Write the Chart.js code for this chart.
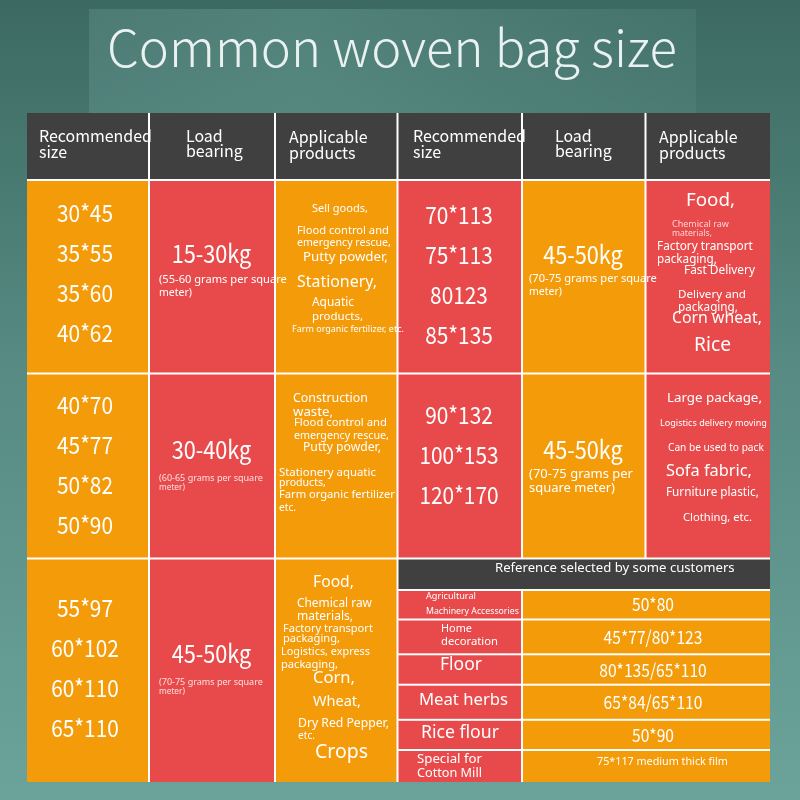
<!DOCTYPE html>
<html><head><meta charset="utf-8">
<style>html,body{margin:0;padding:0;background:#4f8079;}#wrap{width:800px;height:800px;position:relative}</style>
<script src="https://cdn.jsdelivr.net/npm/chart.js@4.4.1/dist/chart.umd.min.js"></script>
</head><body><div id="wrap"><canvas id="c"></canvas></div>
<script>
// ---------------- DATA ----------------
const TITLE = "Common woven bag size";
const HEADERS = [["Recommended","size"],["Load","bearing"],["Applicable","products"],
                 ["Recommended","size"],["Load","bearing"],["Applicable","products"]];
const SIZES_LEFT = [["30*45","35*55","35*60","40*62"],["40*70","45*77","50*82","50*90"],["55*97","60*102","60*110","65*110"]];
const SIZES_RIGHT = [["70*113","75*113","80123","85*135"],["90*132","100*153","120*170"]];
const LOAD_LEFT = ["15-30kg","30-40kg","45-50kg"];
const LOAD_RIGHT = ["45-50kg","45-50kg"];
const GRAMS_LEFT = [["(55-60 grams per square","meter)"],["(60-65 grams per square","meter)"],["(70-75 grams per square","meter)"]];
const GRAMS_RIGHT = [["(70-75 grams per square","meter)"],["(70-75 grams per","square meter)"]];
const PRODUCTS_LEFT = [
  ["Sell goods,","Flood control and","emergency rescue,","Putty powder,","Stationery,","Aquatic","products,","Farm organic fertilizer, etc."],
  ["Construction","waste,","Flood control and","emergency rescue,","Putty powder,","Stationery aquatic","products,","Farm organic fertilizer","etc."],
  ["Food,","Chemical raw","materials,","Factory transport","packaging,","Logistics, express","packaging,","Corn,","Wheat,","Dry Red Pepper,","etc.","Crops"]
];
const PRODUCTS_RIGHT = [
  ["Food,","Chemical raw","materials,","Factory transport","packaging,","Fast Delivery","Delivery and","packaging,","Corn wheat,","Rice"],
  ["Large package,","Logistics delivery moving","Can be used to pack","Sofa fabric,","Furniture plastic,","Clothing, etc."]
];
const REF_TITLE = "Reference selected by some customers";
const REF_USES = [["Agricultural","Machinery Accessories"],["Home","decoration"],["Floor"],["Meat herbs"],["Rice flour"],["Special for","Cotton Mill"]];
const REF_SIZES = ["50*80","45*77/80*123","80*135/65*110","65*84/65*110","50*90","75*117 medium thick film"];

// ---------------- LAYOUT / STYLE ----------------
const W_TABLE = 743, H_TABLE = 669;
const COL_EDGES = [0,122,248,370.5,495,618.5,743];
const ROW_EDGES = [0,67,260.5,445.5,669];
const SUB_EDGES = [445.5,477,506.5,541.3,571.7,606.8,637,669];
const ORANGE = '#F49B0A', RED = '#E84A4B', DARK = '#404040';
const F_CJK = '"Noto Sans CJK SC", "Noto Sans", sans-serif';
const F_TXT = '"Noto Sans", "Open Sans", sans-serif';
const HEADER_LAYOUT = [[12,23,39],[37,23,38],[14,24,40],[15.5,23,39],[33,23,38],[13.5,24,40]];
const HEADER_FIT = ["Recommended", 113];
const SIZE_LAYOUT_L = [[58,33],[58,31],[58,49.5]];
const SIZE_LAYOUT_R = [[61.5,35],[61.5,41.5]];
const LOAD_LAYOUT_L = [[62.5,73.5],[62.5,75.5],[62.5,94.5]];
const LOAD_LAYOUT_R = [[61,74],[61,75.5]];
const GRAMS_LAYOUT_L = [[10,100,113,128,33],[10,104.5,114.5,104,26],[10,123.5,133.5,104,26]];
const GRAMS_LAYOUT_R = [[7,99,112,128,33],[7,100.5,114.5,104,86]];
const PROD_LAYOUT_L = [
  [[37,29,56],[22,51,92],[22,63,94],[28,77,85],[22,102,80],[37,123,42],[37,137,51],[17,149,112]],
  [[18,24.5,75],[18,38.5,40],[19,49.5,93],[19,62.5,95],[28,74.5,78],[4,99.5,97],[4,109.5,47],[4,121.5,116],[4,134.5,17]],
  [[38,24.5,41],[22,45.5,75],[22,58.5,56],[8,70.5,90],[8,80.5,57],[6,93.5,89],[6,106.5,57],[38,119.5,42],[38,143.5,48],[23,165.5,91],[23,177.5,17],[40,193.5,53]]
];
const PROD_LAYOUT_R = [
  [[40.5,21,49],[26.5,44,57],[26.5,54,40],[11.5,67,96],[11.5,80,60],[38.5,91,71],[32.5,115,68],[32.5,128,60],[26.5,138,90],[48.5,166,37]],
  [[21.5,24.5,95],[14.5,49.5,107],[22.5,74.5,96],[20.5,97.5,86],[20.5,119.5,93],[37.5,144.5,69]]
];
const REF_TITLE_LAYOUT = [97.5,9.5,240];
const REF_USE_LAYOUT = [
  [[28.5,6,50],[28.5,22,93]],[[43.5,9.5,31],[43.5,22.5,57]],[[42.5,10.7,42]],
  [[21.5,15.3,89]],[[23.5,13.2,78]],[[19.5,9,65],[19.5,23,65]]
];
const REF_SIZE_LAYOUT = [[131,14],[131,17.5],[131,15.7],[131,17.3],[131,15.2],[75,12,131]];

// ---------------- BUILD ----------------
const cells = [];
const texts = [];
const colColor = c => (c % 2 === 0 ? ORANGE : RED);
for (let c = 0; c < 6; c++) cells.push({x0:COL_EDGES[c],x1:COL_EDGES[c+1],y0:ROW_EDGES[0],y1:ROW_EDGES[1],color:DARK});
for (let r = 1; r <= 3; r++) {
  const last = r === 3 ? 3 : 6;
  for (let c = 0; c < last; c++) cells.push({x0:COL_EDGES[c],x1:COL_EDGES[c+1],y0:ROW_EDGES[r],y1:ROW_EDGES[r+1],color:colColor(c)});
}
cells.push({x0:COL_EDGES[3],x1:COL_EDGES[6],y0:SUB_EDGES[0],y1:SUB_EDGES[1],color:DARK});
for (let i = 0; i < REF_USES.length; i++) {
  cells.push({x0:COL_EDGES[3],x1:COL_EDGES[4],y0:SUB_EDGES[i+1],y1:SUB_EDGES[i+2],color:RED});
  cells.push({x0:COL_EDGES[4],x1:COL_EDGES[6],y0:SUB_EDGES[i+1],y1:SUB_EDGES[i+2],color:ORANGE});
}
HEADERS.forEach((h,c) => {
  const L = HEADER_LAYOUT[c];
  h.forEach((t,i) => texts.push({t, vx:COL_EDGES[c], vy:ROW_EDGES[0], dx:L[0], dy:L[1+i], header:true, fam:F_CJK}));
});
SIZES_LEFT.forEach((list,r) => list.forEach((t,i) => texts.push({t, vx:COL_EDGES[0], vy:ROW_EDGES[r+1], dx:SIZE_LAYOUT_L[r][0], dy:SIZE_LAYOUT_L[r][1]+40*i, size:24, fam:F_CJK, align:'center', num:true})));
SIZES_RIGHT.forEach((list,r) => list.forEach((t,i) => texts.push({t, vx:COL_EDGES[3], vy:ROW_EDGES[r+1], dx:SIZE_LAYOUT_R[r][0], dy:SIZE_LAYOUT_R[r][1]+40*i, size:24, fam:F_CJK, align:'center', num:true})));
LOAD_LEFT.forEach((t,r) => texts.push({t, vx:COL_EDGES[1], vy:ROW_EDGES[r+1], dx:LOAD_LAYOUT_L[r][0], dy:LOAD_LAYOUT_L[r][1], size:25, fam:F_CJK, align:'center', num:true}));
LOAD_RIGHT.forEach((t,r) => texts.push({t, vx:COL_EDGES[4], vy:ROW_EDGES[r+1], dx:LOAD_LAYOUT_R[r][0], dy:LOAD_LAYOUT_R[r][1], size:25, fam:F_CJK, align:'center', num:true}));
GRAMS_LEFT.forEach((g,r) => { const L = GRAMS_LAYOUT_L[r];
  g.forEach((t,i) => texts.push({t, vx:COL_EDGES[1], vy:ROW_EDGES[r+1], dx:L[0], dy:L[1+i], w:L[3+i], fam:F_TXT, color: r? 'rgba(255,235,235,0.92)':'#fff'})); });
GRAMS_RIGHT.forEach((g,r) => { const L = GRAMS_LAYOUT_R[r];
  g.forEach((t,i) => texts.push({t, vx:COL_EDGES[4], vy:ROW_EDGES[r+1], dx:L[0], dy:L[1+i], w:L[3+i], fam:F_TXT})); });
PRODUCTS_LEFT.forEach((list,r) => list.forEach((t,i) => { const L = PROD_LAYOUT_L[r][i];
  texts.push({t, vx:COL_EDGES[2], vy:ROW_EDGES[r+1], dx:L[0], dy:L[1], w:L[2], fam:F_TXT}); }));
PRODUCTS_RIGHT.forEach((list,r) => list.forEach((t,i) => { const L = PROD_LAYOUT_R[r][i];
  texts.push({t, vx:COL_EDGES[5], vy:ROW_EDGES[r+1], dx:L[0], dy:L[1], w:L[2], fam:F_TXT, color:(r===0&&(i===1||i===2))?'rgba(255,225,225,0.9)':'#fff'}); }));
texts.push({t:REF_TITLE, vx:COL_EDGES[3], vy:SUB_EDGES[0], dx:REF_TITLE_LAYOUT[0], dy:REF_TITLE_LAYOUT[1], w:REF_TITLE_LAYOUT[2], fam:F_TXT});
REF_USES.forEach((list,r) => list.forEach((t,i) => { const L = REF_USE_LAYOUT[r][i];
  texts.push({t, vx:COL_EDGES[3], vy:SUB_EDGES[r+1], dx:L[0], dy:L[1], w:L[2], fam:F_TXT}); }));
REF_SIZES.forEach((t,r) => { const L = REF_SIZE_LAYOUT[r];
  if (L.length === 3) texts.push({t, vx:COL_EDGES[4], vy:SUB_EDGES[r+1], dx:L[0], dy:L[1], w:L[2], fam:F_TXT});
  else texts.push({t, vx:COL_EDGES[4], vy:SUB_EDGES[r+1], dx:L[0], dy:L[1], size:18, fam:F_CJK, align:'center', num:true}); });

// ---------------- DRAW ----------------
function fontStr(size, fam, weight){ return `${weight||400} ${size}px ${fam}`; }
const bgPlugin = {
  id:'bg',
  beforeDraw(chart){
    const ctx = chart.ctx, w = chart.width, h = chart.height;
    ctx.save();
    const g = ctx.createLinearGradient(0,0,0,h);
    g.addColorStop(0,'#3c6a62'); g.addColorStop(0.45,'#568a82'); g.addColorStop(1,'#6ba39a');
    ctx.fillStyle = g; ctx.fillRect(0,0,w,h);
    const g2 = ctx.createLinearGradient(89,0,696,0);
    g2.addColorStop(0,'rgba(120,170,165,0.26)'); g2.addColorStop(0.35,'rgba(125,178,170,0.32)'); g2.addColorStop(1,'rgba(110,160,155,0.16)');
    ctx.fillStyle = g2; ctx.fillRect(89,9,607,104);
    ctx.restore();
  }
};
const tablePlugin = {
  id:'table',
  afterDraw(chart){
    const {ctx} = chart, xs = chart.scales.x, ys = chart.scales.y;
    const X = v => xs.getPixelForValue(v), Y = v => ys.getPixelForValue(v);
    ctx.save();
    ctx.font = fontStr(100, F_CJK, 300);
    const tw = ctx.measureText(TITLE).width;
    ctx.font = fontStr(100*570/tw, F_CJK, 300);
    ctx.fillStyle = '#e9f2f0'; ctx.textBaseline = 'alphabetic'; ctx.textAlign = 'left';
    ctx.fillText(TITLE, 107, 67);
    ctx.fillStyle = '#ffffff';
    ctx.fillRect(X(0), Y(0), X(W_TABLE)-X(0), Y(H_TABLE)-Y(0));
    const g = 1;
    cells.forEach(c => {
      const l = X(c.x0) + (c.x0 > 0 ? g : 0), r = X(c.x1) - (c.x1 < W_TABLE ? g : 0);
      const t = Y(c.y0) + (c.y0 > 0 ? g : 0), b = Y(c.y1) - (c.y1 < H_TABLE ? g : 0);
      ctx.fillStyle = c.color; ctx.fillRect(l, t, r-l, b-t);
    });
    ctx.font = fontStr(24, F_CJK);
    const numSx = 56 / ctx.measureText('30*45').width;
    ctx.font = fontStr(100, F_CJK);
    const headSize = 100*HEADER_FIT[1]/ctx.measureText(HEADER_FIT[0]).width;
    texts.forEach(it => {
      let size = it.header ? headSize : it.size;
      if (it.w) { ctx.font = fontStr(100, it.fam); size = 100*it.w/ctx.measureText(it.t).width; }
      ctx.save();
      ctx.font = fontStr(size, it.fam);
      ctx.fillStyle = it.color || '#ffffff';
      ctx.textBaseline = 'middle';
      ctx.textAlign = it.align || 'left';
      ctx.translate(X(it.vx) + it.dx, Y(it.vy) + it.dy);
      if (it.num) ctx.scale(numSx, 1);
      ctx.fillText(it.t, 0, 0);
      ctx.restore();
    });
    ctx.restore();
  }
};
new Chart(document.getElementById('c'), {
  type:'scatter',
  data:{datasets:[{data:[], pointRadius:0}]},
  options:{
    responsive:true, maintainAspectRatio:false, animation:false, events:[],
    layout:{padding:{left:27,right:30,top:113,bottom:18}},
    plugins:{legend:{display:false}, tooltip:{enabled:false}, title:{display:false}},
    scales:{
      x:{type:'linear', min:0, max:W_TABLE, display:false},
      y:{type:'linear', min:0, max:H_TABLE, reverse:true, display:false}
    }
  },
  plugins:[bgPlugin, tablePlugin]
});
</script>
</body></html>
